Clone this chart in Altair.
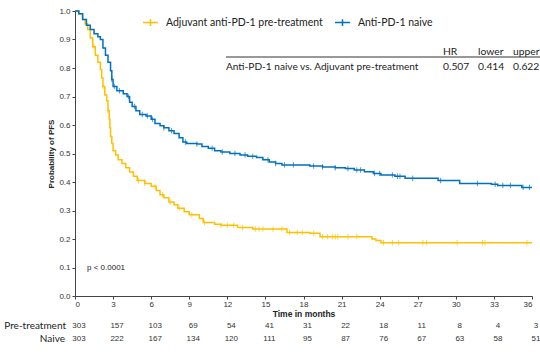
import altair as alt
import pandas as pd

PRE = "Adjuvant anti-PD-1 pre-treatment"
NAI = "Anti-PD-1 naive"

# Kaplan-Meier step points (time in months, survival probability)
naive_t = [0, 0.3, 0.6, 0.9, 1.2, 1.5, 1.8, 2.0, 2.2, 2.4, 2.6, 2.8, 2.9, 3.0, 3.3, 3.8, 4.1, 4.3,
           4.5, 4.8, 5.1, 5.6, 6.0, 6.3, 6.7, 7.0, 7.4, 7.8, 8.2, 8.5, 8.8, 9.6, 10.0, 10.5, 11.0,
           11.5, 12.2, 13.0, 13.6, 14.3, 14.8, 15.3, 15.8, 16.3, 18.5, 19.5, 20.5, 21.3, 22.0,
           22.8, 23.5, 24.1, 25.2, 26.0, 28.6, 30.3, 32.8, 33.3, 35.2, 36.0]
naive_s = [1.0, 0.99, 0.97, 0.95, 0.935, 0.92, 0.91, 0.90, 0.87, 0.845, 0.82, 0.79, 0.76, 0.735,
           0.72, 0.71, 0.70, 0.68, 0.665, 0.65, 0.637, 0.632, 0.62, 0.605, 0.597, 0.59, 0.58, 0.57,
           0.555, 0.54, 0.535, 0.533, 0.525, 0.518, 0.51, 0.505, 0.50, 0.495, 0.49, 0.486, 0.478,
           0.47, 0.465, 0.46, 0.456, 0.453, 0.45, 0.447, 0.442, 0.436, 0.43, 0.425, 0.42, 0.413,
           0.405, 0.395, 0.392, 0.388, 0.381, 0.381]

pre_t = [0, 0.3, 0.6, 0.8, 1.0, 1.2, 1.4, 1.6, 1.8, 2.0, 2.1, 2.2, 2.35, 2.5, 2.6, 2.7, 2.75, 2.8,
         2.9, 3.0, 3.2, 3.4, 3.7, 4.0, 4.3, 4.6, 4.9, 5.5, 6.0, 6.4, 6.7, 7.0, 7.4, 7.8, 8.1, 8.6,
         9.0, 9.8, 10.1, 11.0, 11.5, 12.8, 14.0, 16.7, 18.5, 19.3, 23.4, 23.7, 24.1, 36.0]
pre_s = [1.0, 0.99, 0.97, 0.955, 0.935, 0.905, 0.875, 0.845, 0.82, 0.795, 0.765, 0.735, 0.705,
         0.685, 0.65, 0.62, 0.59, 0.56, 0.535, 0.51, 0.495, 0.478, 0.465, 0.45, 0.435, 0.42, 0.405,
         0.395, 0.385, 0.37, 0.355, 0.345, 0.33, 0.32, 0.308, 0.296, 0.285, 0.272, 0.258, 0.252,
         0.248, 0.24, 0.235, 0.223, 0.22, 0.208, 0.2, 0.195, 0.187, 0.187]

# censoring times
naive_cens = [2.9, 3.1, 3.5, 4.2, 4.7, 5.3, 5.7, 6.1, 7.0, 7.6, 8.7, 9.6, 10.8, 11.6, 12.6, 13.4,
              14.0, 15.2, 15.8, 16.5, 17.2, 18.8, 19.5, 20.5, 21.5, 22.2, 22.5, 23.6, 24.0, 25.0,
              25.4, 25.6, 26.6, 28.8, 31.7, 33.1, 33.7, 34.3, 35.3, 35.8]
pre_cens = [1.5, 2.2, 2.6, 5.0, 5.5, 6.3, 6.9, 7.5, 8.2, 9.2, 10.2, 11.5, 12.0, 12.5, 13.2, 14.2,
            14.5, 14.8, 15.6, 16.3, 16.9, 17.5, 17.9, 18.8, 19.5, 19.9, 20.3, 20.5, 20.7, 21.5,
            22.2, 24.3, 25.0, 25.5, 27.4, 27.7, 30.1, 32.1, 32.3, 35.6]

months = list(range(0, 37, 3))
y_ticks = [0.0, 0.1, 0.2, 0.3, 0.4, 0.5, 0.6, 0.7, 0.8, 0.9, 1.0]
pre_risk = [303, 157, 103, 69, 54, 41, 31, 22, 18, 11, 8, 4, 3]
naive_risk = [303, 222, 167, 134, 120, 111, 95, 87, 76, 67, 63, 58, 51]

hr_headers = ["HR", "lower", "upper"]
hr_values = ["0.507", "0.414", "0.622"]
hr_label = "Anti-PD-1 naive vs. Adjuvant pre-treatment"
p_text = "p < 0.0001"

YEL = "#FFC000"
BLU = "#0070C0"
FONT = "Lato"
AFONT = "Liberation Sans"


def step_value(ts, ss, t):
    v = ss[0]
    for ti, si in zip(ts, ss):
        if ti <= t:
            v = si
    return v


curves = pd.concat([
    pd.DataFrame({"t": pre_t, "s": pre_s, "g": PRE}),
    pd.DataFrame({"t": naive_t, "s": naive_s, "g": NAI}),
])
cens = pd.concat([
    pd.DataFrame({"t": pre_cens, "s": [step_value(pre_t, pre_s, c) for c in pre_cens], "g": PRE}),
    pd.DataFrame({"t": naive_cens, "s": [step_value(naive_t, naive_s, c) for c in naive_cens], "g": NAI}),
])

color_scale = alt.Scale(domain=[PRE, NAI], range=[YEL, BLU])
x_scale = alt.Scale(domain=[0, 36], nice=False)
y_scale = alt.Scale(domain=[0, 1], nice=False)

x_axis = alt.Axis(values=months, title="Time in months", labelFontSize=8,
                  tickSize=3, labelPadding=1, titleFontSize=8.5, labelOverlap=False,
                  titleFontWeight="bold", titlePadding=1, grid=False,
                  domainColor="#444", tickColor="#444", labelColor="#333",
                  titleColor="#222", labelFont=AFONT, titleFont=AFONT)
y_axis = alt.Axis(values=y_ticks, format=".1f", labelOverlap=False,
                  title="Probability of PFS", labelFontSize=8, tickSize=3,
                  labelPadding=2, titleFontSize=8, titleFontWeight="bold",
                  titlePadding=3, grid=False, domainColor="#444", tickColor="#444",
                  labelColor="#333", titleColor="#222", labelFont=AFONT,
                  titleFont=AFONT)

lines = alt.Chart(curves).mark_line(interpolate="step-after", strokeWidth=1.5).encode(
    x=alt.X("t:Q", scale=x_scale, axis=x_axis),
    y=alt.Y("s:Q", scale=y_scale, axis=y_axis),
    color=alt.Color("g:N", scale=color_scale, sort=[PRE, NAI],
                    legend=alt.Legend(title=None, orient="none", direction="horizontal",
                                      legendX=67, legendY=3, symbolType="M-1,0H1M0,-0.45V0.45",
                                      symbolSize=225, symbolStrokeWidth=1.5, labelOffset=7,
                                      columnPadding=9, labelFontSize=10.5, labelFont=FONT,
                                      labelLimit=400,
                                      labelColor="#222", symbolFillColor="transparent")),
)

ticks = alt.Chart(cens).mark_point(shape="M0,-1V1", size=30, strokeWidth=1, filled=False).encode(
    x=alt.X("t:Q", scale=x_scale, axis=x_axis),
    y=alt.Y("s:Q", scale=y_scale, axis=y_axis),
    color=alt.Color("g:N", scale=color_scale, legend=None),
)

risk = pd.DataFrame({"m": months, "pre": pre_risk, "nai": naive_risk})
one = pd.DataFrame({"k": [0]})

risk_pre = alt.Chart(risk).mark_text(fontSize=8, font=AFONT, color="#333", dx=4,
                                     baseline="middle").encode(
    x=alt.X("m:Q", scale=x_scale, axis=x_axis), y=alt.value(314.7), text="pre:Q")
risk_nai = alt.Chart(risk).mark_text(fontSize=8, font=AFONT, color="#333", dx=4,
                                     baseline="middle").encode(
    x=alt.X("m:Q", scale=x_scale, axis=x_axis), y=alt.value(328.3), text="nai:Q")


def label(text, x, y, size, font, align="left"):
    return alt.Chart(one).mark_text(text=text, fontSize=size, font=font, color="#222",
                                    align=align, baseline="middle").encode(
        x=alt.value(x), y=alt.value(y))


lab_pre = label("Pre-treatment", -9, 314.7, 10, FONT, "right")
lab_nai = label("Naive", -10, 328.3, 10, FONT, "right")
ptxt = label(p_text, 12, 257, 8, AFONT)

hr_rule = alt.Chart(one).mark_rule(color="#333", strokeWidth=1).encode(
    x=alt.value(151), x2=alt.value(470), y=alt.value(46))
hr_layers = [hr_rule, label(hr_label, 151, 55.7, 10.1, FONT)]
for i, (h, v) in enumerate(zip(hr_headers, hr_values)):
    xp = [368, 403, 438][i]
    hr_layers.append(label(h, xp, 41.2, 10.3, FONT))
    hr_layers.append(label(v, xp, 55.7, 10.3, FONT))

chart = alt.layer(lines, ticks, risk_pre, risk_nai, lab_pre, lab_nai, ptxt, *hr_layers).properties(
    width=457, height=285,
    padding={"left": 75, "top": 11, "right": 8, "bottom": 65},
    autosize="none",
    background="white",
).configure_view(stroke=None).configure_axis(labelOverlap=False)

chart.save("out.html", embed_options={"renderer": "svg", "actions": False})
